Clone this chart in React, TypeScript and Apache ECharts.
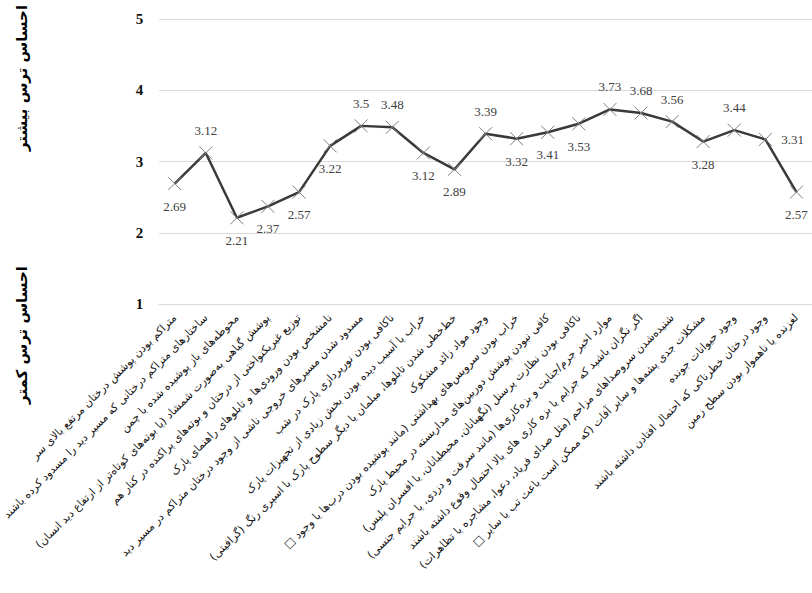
import React, { useEffect, useRef } from "react";
import * as echarts from "echarts";

const RLM = "\u200F";

const categories: string[] = [
  "متراکم بودن پوشش درختان مرتفع بالای سر",
  "ساختارهای متراکم درختانی که مسیر دید را مسدود کرده باشند",
  "محوطه‌های باز پوشیده شده با چمن",
  "پوشش گیاهی به‌صورت شمشاد (یا بوته‌های کوتاه‌تر از ارتفاع دید انسان)",
  "توزیع غیریکنواختی از درختان و بوته‌های پراکنده در کنار هم",
  "نامشخص بودن ورودی‌ها و تابلوهای راهنمای پارک",
  "مسدود شدن مسیرهای خروجی ناشی از وجود درختان متراکم در مسیر دید",
  "ناکافی بودن نورپردازی پارک در شب",
  "خراب یا آسیب دیده بودن بخش زیادی از تجهیزات پارک",
  "خط‌خطی شدن تابلوها، مبلمان یا دیگر سطوح پارک با اسپری رنگ (گرافیتی)",
  "وجود مواد زائد مشکوک",
  "خراب بودن سرویس‌های بهداشتی (مانند پوشیده بودن درب‌ها یا وجود □",
  "کافی نبودن پوشش دوربین‌های مداربسته در محیط پارک",
  "ناکافی بودن نظارت پرسنل (نگهبانان، محیطبانان، یا افسران پلیس)",
  "موارد اخیر جرم/جنایت و بزه‌کاری‌ها (مانند سرقت و دزدی، یا جرایم جنسی)",
  "اگر نگران باشید که جرایم یا بزه کاری های بالا احتمال وقوع داشته باشند",
  "شنیده‌شدن سروصداهای مزاحم (مثل صدای فریاد، دعوا، مشاجره یا تظاهرات)",
  "مشکلات جدی پشه‌ها و سایر آفات (که ممکن است باعث تب یا سایر □",
  "وجود حیوانات جونده",
  "وجود درختان خطرناکی که احتمال افتادن داشته باشند",
  "لغزنده یا ناهموار بودن سطح زمین",
];

const values: number[] = [
  2.69, 3.12, 2.21, 2.37, 2.57, 3.22, 3.5, 3.48, 3.12, 2.89, 3.39, 3.32, 3.41,
  3.53, 3.73, 3.68, 3.56, 3.28, 3.44, 3.31, 2.57,
];

const labelPlacement: string[] = [
  "bottom", "top", "bottom", "bottom", "bottom", "bottom", "top", "top",
  "bottom", "bottom", "top", "bottom", "bottom", "bottom", "top", "top",
  "top", "bottom", "top", "right", "bottom",
];

const yTitleTop = "احساس ترس بیشتر";
const yTitleBottom = "احساس ترس کمتر";

export default function App() {
  const ref = useRef<HTMLDivElement>(null);
  useEffect(() => {
    if (!ref.current) return;
    const chart = echarts.init(ref.current, undefined, { renderer: "svg" });
    const serif = "'Liberation Serif', 'Times New Roman', serif";
    const persian = "'DejaVu Sans', sans-serif";
    chart.setOption({
      animation: false,
      backgroundColor: "#ffffff",
      grid: { left: 154, top: 19, height: 285, width: 672 },
      xAxis: {
        type: "category",
        data: categories,
        boundaryGap: true,
        axisLine: { show: true, lineStyle: { color: "#d9d9d9", width: 1 } },
        axisTick: { show: false },
        axisLabel: {
          interval: 0,
          rotate: 45,
          margin: 12,
          fontFamily: persian,
          fontSize: 11,
          color: "#111",
          formatter: (v: string) => RLM + v + RLM,
        },
      },
      yAxis: {
        type: "value",
        min: 1,
        max: 5,
        interval: 1,
        axisLine: { show: false },
        axisTick: { show: false },
        splitLine: { lineStyle: { color: "#d9d9d9", width: 1 } },
        axisLabel: {
          margin: 16,
          fontFamily: serif,
          fontWeight: "bold",
          fontSize: 15,
          color: "#111",
        },
      },
      graphic: [
        {
          type: "text",
          x: 22,
          y: 78,
          rotation: Math.PI / 2,
          style: {
            text: yTitleTop,
            font: "bold 15px 'DejaVu Sans', sans-serif",
            align: "center",
            verticalAlign: "middle",
            fill: "#000",
          },
        },
        {
          type: "text",
          x: 22,
          y: 335,
          rotation: Math.PI / 2,
          style: {
            text: yTitleBottom,
            font: "bold 15px 'DejaVu Sans', sans-serif",
            align: "center",
            verticalAlign: "middle",
            fill: "#000",
          },
        },
      ],
      series: [
        {
          type: "line",
          data: values.map((v, i) => ({
            value: v,
            label: { position: labelPlacement[i] },
          })),
          lineStyle: { color: "#3a3a3a", width: 2.5 },
          symbol: "path://M0,0L10,10M10,0L0,10",
          symbolSize: 13,
          itemStyle: { color: "#7f7f7f", borderColor: "#7f7f7f", borderWidth: 1 },
          label: {
            show: true,
            distance: 9,
            fontFamily: serif,
            fontSize: 13,
            color: "#404040",
          },
        },
      ],
    });
    return () => chart.dispose();
  }, []);
  return (
    <div
      ref={ref}
      style={{ position: "fixed", left: 0, top: 0, width: 812, height: 593 }}
    />
  );
}
